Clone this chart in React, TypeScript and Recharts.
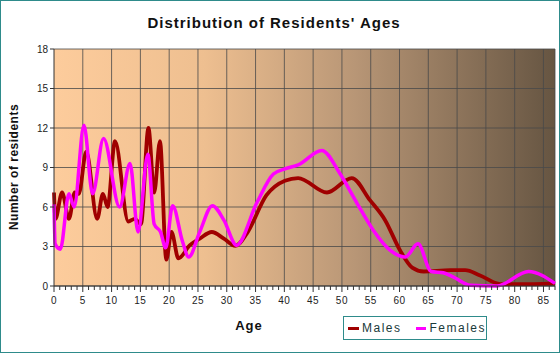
import React from 'react';
import { LineChart, Line, XAxis, YAxis, CartesianGrid, ReferenceLine } from 'recharts';

const maleAges = [0, 0.25, 1.4, 2.6, 3.6, 4.3, 5.6, 7.5, 8.5, 9.3, 10.6, 12.9, 14.0, 15.1, 16.4, 17.4, 18.4, 19.5, 20.4, 21.6, 23.6, 25.3, 27.4, 29.5, 31.5, 33.5, 36.9, 40.1, 42.4, 47.4, 51.7, 54.9, 57.5, 60.1, 62.2, 64.2, 68.8, 71.4, 74, 77.5, 83.3, 87];
const maleCounts = [7.1, 5.1, 7.1, 5.1, 7.1, 7.0, 10.2, 5.1, 7.0, 6.0, 11.0, 4.9, 5.1, 4.7, 12.0, 7.1, 11.0, 2.0, 4.1, 2.1, 3.1, 3.6, 4.1, 3.6, 3.05, 4.0, 6.9, 8.0, 8.2, 7.1, 8.2, 6.5, 5.0, 2.7, 1.4, 1.1, 1.2, 1.2, 0.8, 0.15, 0.15, 0.2];

const femaleAges = [0, 0.2, 1.1, 2.6, 3.5, 5.2, 6.7, 8.6, 11.4, 13.2, 14.6, 16.3, 17.4, 18.5, 19.4, 20.6, 22.3, 23.4, 25.3, 27.5, 29.5, 31.7, 35.2, 38.1, 40.1, 42.4, 46.5, 49.7, 52.6, 55.5, 58.4, 61, 63.2, 65.5, 67.6, 69.3, 72.3, 76.9, 82.4, 87];
const femaleCounts = [6.2, 3.2, 2.8, 7.0, 6.0, 12.2, 7.0, 11.2, 6.0, 9.3, 4.1, 10.0, 4.7, 4.1, 2.9, 6.1, 3.4, 2.2, 4.1, 6.1, 5.0, 3.1, 6.3, 8.5, 8.9, 9.2, 10.3, 8.5, 6.3, 4.2, 2.7, 2.2, 3.2, 1.1, 1.0, 0.7, 0.05, 0, 1.1, 0.2];

const yTicks = [0, 3, 6, 9, 12, 15, 18];
const xMinorTicks = Array.from({ length: 88 }, (_, i) => i);
const xGridValues = [5, 10, 15, 20, 25, 30, 35, 40, 45, 50, 55, 60, 65, 70, 75, 80, 85, 87];

const males = maleAges.map((age, i) => ({ age, count: maleCounts[i] }));
const females = femaleAges.map((age, i) => ({ age, count: femaleCounts[i] }));

const FONT = '"Liberation Sans", Arial, sans-serif';

const XTick = (props: any) => {
  const { x, y, payload } = props;
  const major = payload.value % 5 === 0;
  return (
    <g>
      <line x1={x} x2={x} y1={y} y2={y + (major ? 6 : 4)} stroke="#333" />
      {major && (
        <text x={x} y={y + 18} textAnchor="middle" fontSize={10} fontFamily={FONT} fill="#222" letterSpacing={0.5}>
          {payload.value}
        </text>
      )}
    </g>
  );
};

export default function App() {
  return (
    <div style={{ position: 'relative', width: 560, height: 353, background: '#fff', fontFamily: FONT, boxSizing: 'border-box', border: '1px solid #2e8b8b', overflow: 'hidden' }}>
      <style>{'body{margin:0}'}</style>
      <div style={{ position: 'absolute', left: 0, top: 0 }}>
        <LineChart width={558} height={351} margin={{ top: 48, right: 4, left: 0, bottom: 0 }}>
          <defs>
            <linearGradient id="bg" x1="0" y1="0" x2="1" y2="0">
              <stop offset="0%" stopColor="#fdcc9c" />
              <stop offset="30%" stopColor="#eebf90" />
              <stop offset="60%" stopColor="#b89676" />
              <stop offset="100%" stopColor="#665542" />
            </linearGradient>
          </defs>
          <CartesianGrid fill="url(#bg)" vertical={false} stroke="#4a4a4a" strokeOpacity={0.8} />
          {xGridValues.map((v) => (
            <ReferenceLine key={v} x={v} stroke="#4a4a4a" strokeOpacity={0.8} />
          ))}
          <XAxis
            type="number"
            dataKey="age"
            domain={[0, 87]}
            ticks={xMinorTicks}
            interval={0}
            tickSize={0}
            tickMargin={0}
            tickLine={false}
            height={66}
            axisLine={{ stroke: '#333' }}
            tick={<XTick />}
            allowDuplicatedCategory={false}
          />
          <YAxis
            type="number"
            domain={[0, 18]}
            ticks={yTicks}
            interval={0}
            width={53}
            tickSize={4}
            tickMargin={2}
            axisLine={{ stroke: '#333' }}
            tickLine={{ stroke: '#333' }}
            tick={{ fontSize: 10, fill: '#222', fontFamily: FONT }}
          />
          <Line data={males} dataKey="count" type="monotone" stroke="#a00000" strokeWidth={3.8} dot={false} isAnimationActive={false} />
          <Line data={females} dataKey="count" type="monotone" stroke="#ff00ff" strokeWidth={3.5} dot={false} isAnimationActive={false} />
        </LineChart>
      </div>
      <div style={{ position: 'absolute', left: 0, width: 546, top: 13, textAlign: 'center', fontSize: 15, fontWeight: 'bold', letterSpacing: 1, color: '#111' }}>
        Distribution of Residents' Ages
      </div>
      <div style={{ position: 'absolute', left: 13, top: 166, width: 0, height: 0 }}>
        <div style={{ position: 'absolute', transform: 'translate(-50%, -50%) rotate(-90deg)', whiteSpace: 'nowrap', fontSize: 12, fontWeight: 'bold', letterSpacing: 0.5, color: '#111' }}>
          Number of residents
        </div>
      </div>
      <div style={{ position: 'absolute', left: 248, top: 324, width: 0, height: 0 }}>
        <div style={{ position: 'absolute', transform: 'translate(-50%, -50%)', whiteSpace: 'nowrap', fontSize: 13, fontWeight: 'bold', letterSpacing: 1, color: '#111' }}>
          Age
        </div>
      </div>
      <div style={{ position: 'absolute', left: 342, top: 315, width: 144, height: 24, border: '1px solid #2e8b8b', boxSizing: 'border-box', display: 'flex', alignItems: 'center', fontSize: 12, letterSpacing: 1.5, color: '#1a3a3a' }}>
        <span style={{ display: 'inline-block', width: 12, height: 3, background: '#a00000', marginLeft: 4, marginRight: 3 }} />
        <span>Males</span>
        <span style={{ display: 'inline-block', width: 12, height: 3, background: '#ff00ff', marginLeft: 14, marginRight: 3 }} />
        <span>Females</span>
      </div>
    </div>
  );
}
